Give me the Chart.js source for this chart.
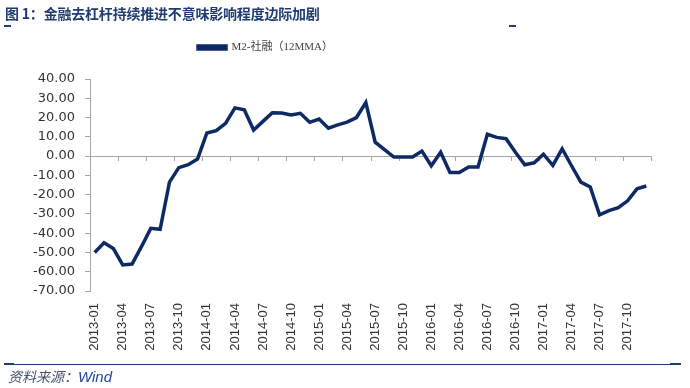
<!DOCTYPE html>
<html>
<head>
<meta charset="utf-8">
<script src="https://cdn.jsdelivr.net/npm/chart.js@4/dist/chart.umd.min.js"></script>
<style>
  html, body { margin: 0; padding: 0; background: #ffffff; }
  #wrap { position: relative; width: 690px; height: 388px; overflow: hidden; background: #fff; }
  #c { position: absolute; left: 0; top: 0; }
  #title { position: absolute; left: 5px; top: 3px; font: bold 14px "Noto Sans CJK SC", sans-serif; color: #1f3b70; line-height: 20px; white-space: nowrap; letter-spacing: -0.2px; }
  .dash { position: absolute; background: #1f3b70; }
  #source { position: absolute; left: 8px; top: 367px; font: italic 14px "Noto Sans CJK SC", sans-serif; line-height: 18px; white-space: nowrap; color: #44506a; }
  #source span { color: #22449a; font-family: "Liberation Sans", "Noto Sans", sans-serif; font-size: 15px; }
</style>
</head>
<body>
<div id="wrap">
  <canvas id="c" width="690" height="388"></canvas>
  <div id="title">图 1：金融去杠杆持续推进不意味影响程度边际加剧</div>
  <div class="dash" style="left:4px;top:25px;width:7px;height:2px;"></div>
  <div class="dash" style="left:509px;top:25px;width:7px;height:2px;"></div>
  <div class="dash" style="left:5px;top:364px;width:675px;height:1px;"></div>
  <div class="dash" style="left:4px;top:363px;width:10px;height:2px;"></div>
  <div class="dash" style="left:670px;top:363px;width:11px;height:2px;"></div>
  <div id="source">资料来源：<span>Wind</span></div>
</div>
<script>
// ---- data ----
const seriesName = "M2-社融（12MMA）";
const months = [
  "2013-01","2013-02","2013-03","2013-04","2013-05","2013-06","2013-07","2013-08","2013-09","2013-10","2013-11","2013-12",
  "2014-01","2014-02","2014-03","2014-04","2014-05","2014-06","2014-07","2014-08","2014-09","2014-10","2014-11","2014-12",
  "2015-01","2015-02","2015-03","2015-04","2015-05","2015-06","2015-07","2015-08","2015-09","2015-10","2015-11","2015-12",
  "2016-01","2016-02","2016-03","2016-04","2016-05","2016-06","2016-07","2016-08","2016-09","2016-10","2016-11","2016-12",
  "2017-01","2017-02","2017-03","2017-04","2017-05","2017-06","2017-07","2017-08","2017-09","2017-10","2017-11","2017-12"
];
const m2MinusTsf = [
  -50, -45, -48, -56.5, -56, -47, -37.5, -38, -13.5, -6, -4.5, -1.5,
  12, 13.2, 17, 25, 24, 13.5, 18, 22.5, 22.3, 21.3, 22.2, 17.5,
  19.2, 14.5, 16.2, 17.6, 20, 27.8, 7.2, 3.4, -0.5, -0.5, -0.5, 2.6,
  -5, 2, -8.5, -8.5, -5.6, -5.6, 11.3, 9.7, 9, 2, -4.5, -3.5,
  1, -4.8, 3.8, -5, -13.5, -16, -30.5, -28.3, -26.8, -23.2, -17, -15.5
];
const yMin = -70, yMax = 40, yStep = 10;
const labelEvery = 3;

const lineColor = '#0e2a64';
const axisColor = '#a6a6a6';

// zero line with category tick marks (drawn through the scales)
const zeroAxis = {
  id: 'zeroAxis',
  beforeDatasetsDraw(chart) {
    const {ctx, scales: {x, y}} = chart;
    const y0 = y.getPixelForValue(0);
    const half = (x.getPixelForValue(1) - x.getPixelForValue(0)) / 2;
    ctx.save();
    ctx.strokeStyle = axisColor;
    ctx.lineWidth = 1;
    ctx.beginPath();
    ctx.moveTo(x.left, Math.round(y0) + 0.5);
    ctx.lineTo(x.right, Math.round(y0) + 0.5);
    for (let i = 0; i <= months.length; i += labelEvery) {
      const px = Math.round(x.getPixelForValue(i) - half) + 0.5;
      ctx.moveTo(px, Math.round(y0));
      ctx.lineTo(px, Math.round(y0) + 5);
    }
    ctx.stroke();
    ctx.restore();
  }
};

const legendGap = {
  id: 'legendGap',
  beforeInit(chart) {
    const fit = chart.legend.fit;
    chart.legend.fit = function () { fit.bind(chart.legend)(); this.height += 16; };
  },
  afterLayout(chart) {
    chart.legend.left -= 60;
    chart.legend.right -= 60;
  }
};

new Chart(document.getElementById('c'), {
  type: 'line',
  data: {
    labels: months,
    datasets: [{
      label: seriesName,
      data: m2MinusTsf,
      borderColor: lineColor,
      backgroundColor: lineColor,
      borderWidth: 3.5,
      pointRadius: 0,
      tension: 0,
      fill: false
    }]
  },
  options: {
    responsive: false,
    animation: false,
    events: [],
    layout: { padding: { left: 0, right: 39, top: 32, bottom: 0 } },
    plugins: {
      legend: {
        display: true,
        position: 'top',
        labels: {
          boxWidth: 28,
          boxHeight: 3,
          padding: 10,
          color: '#404040',
          font: { family: '"Liberation Serif", "Noto Sans CJK SC", serif', size: 11 }
        }
      },
      tooltip: { enabled: false }
    },
    scales: {
      x: {
        offset: true,
        grid: { display: false, drawTicks: false },
        border: { display: false },
        ticks: {
          autoSkip: false,
          minRotation: 90,
          maxRotation: 90,
          padding: 12,
          color: '#333333',
          font: { family: '"Liberation Sans", Arial, sans-serif', size: 13 },
          callback(v, i) { return i % labelEvery === 0 ? months[i] : ''; }
        },
        afterFit(s) { s.height = 97; }
      },
      y: {
        min: yMin,
        max: yMax,
        grid: { drawOnChartArea: false, drawTicks: true, tickLength: 5, color: axisColor },
        border: { display: true, color: axisColor },
        ticks: {
          stepSize: yStep,
          padding: 10,
          color: '#333333',
          font: { family: '"DejaVu Sans", Verdana, sans-serif', size: 13 },
          callback(v) { return v.toFixed(2); }
        },
        afterFit(s) { s.width = 90; }
      }
    }
  },
  plugins: [zeroAxis, legendGap]
});
</script>
</body>
</html>
